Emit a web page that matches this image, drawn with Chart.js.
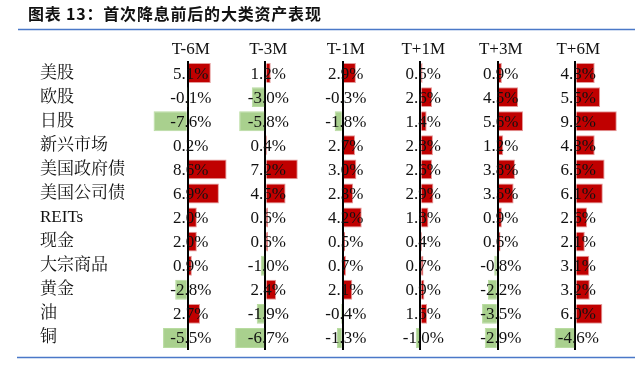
<!DOCTYPE html>
<html>
<head>
<meta charset="utf-8">
<script src="https://cdn.jsdelivr.net/npm/chart.js@4"></script>
<style>
  html, body { margin: 0; padding: 0; background: #fff; }
  #wrap { width: 639px; height: 383px; position: relative; }
</style>
</head>
<body>
<div id="wrap"><canvas id="grafico"></canvas></div>
<script>
// dados (variação %)
const ativos = ['美股', '欧股', '日股', '新兴市场', '美国政府债', '美国公司债', 'REITs', '现金', '大宗商品', '黄金', '油', '铜'];
const periodos = ['T-6M', 'T-3M', 'T-1M', 'T+1M', 'T+3M', 'T+6M'];

const tMenos6 = [5.1, -0.1, -7.6, 0.2, 8.6, 6.9, 2.0, 2.0, 0.9, -2.8, 2.7, -5.5];
const tMenos3 = [1.2, -3.0, -5.8, 0.4, 7.2, 4.5, 0.6, 0.6, -1.0, 2.4, -1.9, -6.7];
const tMenos1 = [2.9, -0.3, -1.8, 2.7, 3.0, 2.3, 4.2, 0.5, 0.7, 2.1, -0.4, -1.3];
const tMais1  = [0.5, 2.6, 1.4, 2.8, 2.6, 2.9, 1.8, 0.4, 0.7, 0.9, 1.5, -1.0];
const tMais3  = [0.9, 4.5, 5.6, 1.2, 3.8, 3.5, 0.9, 0.6, -0.8, -2.2, -3.5, -2.9];
const tMais6  = [4.3, 5.5, 9.2, 4.3, 6.5, 6.1, 2.6, 2.1, 3.1, 3.2, 6.0, -4.6];

const colunas = [tMenos6, tMenos3, tMenos1, tMais1, tMais3, tMais6];

const fonteTexto = '"Liberation Serif", "Noto Serif CJK SC", "Noto Sans CJK SC", serif';

// cada coluna usa o seu próprio eixo x (empilhados lado a lado)
// obs: o layout do Chart.js coloca os eixos do topo em ordem inversa
const eixos = {};
for (let i = periodos.length - 1; i >= 0; i--) {
    eixos['x' + i] = {
        type: 'linear',
        position: 'top',
        stack: 'colunas',
        min: -7.95,
        max: 9.25,
        z: 1,
        afterFit: (s) => { s.height = 22; },
        afterBuildTicks: (s) => { s.ticks = [{ value: 0 }]; },
        ticks: { display: false },
        border: { display: false },
        grid: {
            drawTicks: false,
            color: '#000',
            lineWidth: 2,
            borderDash: [2, 2]
        },
        title: {
            display: true,
            text: periodos[i],
            color: '#111',
            padding: { top: 0, bottom: 0 },
            font: { family: fonteTexto, size: 17 }
        }
    };
}

eixos.y = {
    type: 'category',
    position: 'left',
    afterFit: (s) => { s.width = 112; },
    grid: { display: false },
    border: { display: false },
    ticks: {
        crossAlign: 'far',
        color: '#111',
        font: { family: fonteTexto, size: 17 }
    }
};

// textos dos valores por cima das barras
const pluginValores = {
    id: 'valores',
    afterDatasetsDraw(chart) {
        const ctx = chart.ctx;
        ctx.save();
        ctx.font = '17px ' + fonteTexto;
        ctx.fillStyle = '#111';
        ctx.textAlign = 'center';
        ctx.textBaseline = 'middle';
        chart.data.datasets.forEach((ds, i) => {
            const eixo = chart.scales['x' + i];
            const cx = (eixo.left + eixo.right) / 2;
            chart.getDatasetMeta(i).data.forEach((barra, j) => {
                ctx.fillText(ds.data[j].toFixed(1) + '%', cx, barra.y + 1);
            });
        });
        ctx.restore();
    }
};

// título e linhas azuis
const pluginMoldura = {
    id: 'moldura',
    afterDraw(chart) {
        const ctx = chart.ctx;
        ctx.save();
        ctx.font = 'bold 16px "Noto Sans CJK SC", sans-serif';
        ctx.letterSpacing = '0.8px';
        ctx.fillStyle = '#111';
        ctx.textAlign = 'left';
        ctx.textBaseline = 'middle';
        ctx.fillText('图表 13：首次降息前后的大类资产表现', 28, 14);
        ctx.strokeStyle = '#4a78c8';
        ctx.lineWidth = 1.5;
        ctx.beginPath();
        ctx.moveTo(18, 29.5); ctx.lineTo(635, 29.5);
        ctx.moveTo(17, 357.5); ctx.lineTo(635, 357.5);
        ctx.stroke();
        ctx.restore();
    }
};

const ctx = document.getElementById('grafico').getContext('2d');
new Chart(ctx, {
    type: 'bar',
    data: {
        labels: ativos,
        datasets: colunas.map((valores, i) => ({
            label: periodos[i],
            data: valores,
            xAxisID: 'x' + i,
            yAxisID: 'y',
            grouped: false,
            barPercentage: 0.83,
            categoryPercentage: 1,
            backgroundColor: valores.map(v => v >= 0 ? '#c00000' : '#a9d08e'),
            borderColor: valores.map(v => v >= 0 ? '#e49a9a' : '#b8dca0'),
            borderWidth: 1
        }))
    },
    options: {
        indexAxis: 'y',
        responsive: true,
        maintainAspectRatio: false,
        animation: false,
        layout: { padding: { left: 40, right: 22, top: 39, bottom: 33 } },
        plugins: {
            legend: { display: false },
            tooltip: { enabled: false }
        },
        scales: eixos
    },
    plugins: [pluginValores, pluginMoldura]
});
</script>
</body>
</html>
